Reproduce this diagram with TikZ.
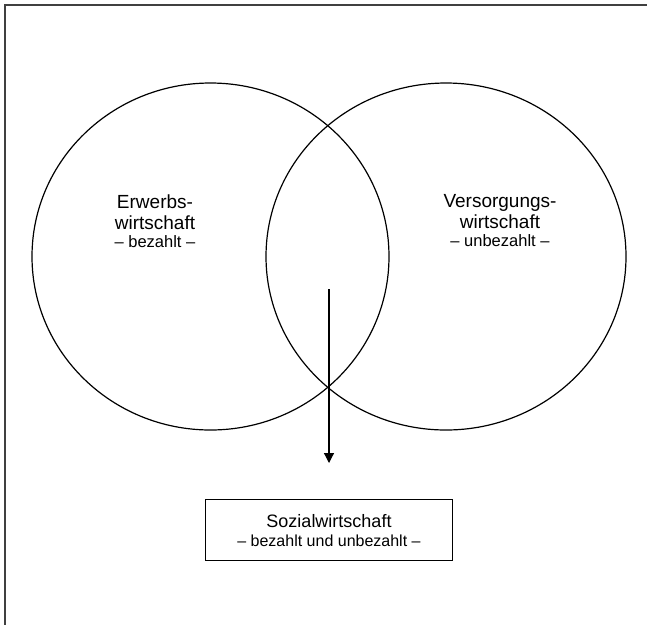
\documentclass[tikz,border=0pt]{standalone}
\usepackage{fontspec}
\setmainfont{Liberation Sans}
\usetikzlibrary{shapes.geometric,arrows.meta,positioning}

\begin{document}
\begin{tikzpicture}[x=1pt,y=-1pt,line width=1.2pt,
        kreis/.style={draw,ellipse,minimum width=#1,minimum height=347pt,inner sep=0pt},
        gross/.style={font=\fontsize{19}{21}\selectfont},
        beschriftung/.style={gross,align=center,inner sep=0pt}]
        \useasboundingbox (0,0) rectangle (647,625);
        \draw[line width=1.6pt,black!75] (647,5) -- (5,5) -- (5,625);

        \foreach \name/\x/\w in {erwerbs/210.5/357pt, versorgung/446/360pt}
            \node[kreis=\w] (\name) at (\x,256.5) {};

        \node[beschriftung] (erwerbstext) at (155,221)
            {Erwerbs-\\wirtschaft\\[-3pt]{\fontsize{16.5}{18}\selectfont – bezahlt –}};
        \node[beschriftung] (versorgungtext) at (500,221)
            {Versorgungs-\\wirtschaft\\[-3pt]{\fontsize{16.5}{18}\selectfont – unbezahlt –}};

        \coordinate (pfeilanfang) at (329,289);
        \coordinate (pfeilende) at (329,463);
        \node[draw,below=36pt of pfeilende,minimum width=247pt,minimum height=61pt,
            align=center,font=\fontsize{18}{21}\selectfont,inner sep=0pt] (sozial)
            {Sozialwirtschaft\\[-2pt]{\fontsize{16}{18}\selectfont – bezahlt und unbezahlt –}};

        \draw[-{Triangle[width=10pt,length=10pt]}] (pfeilanfang) -- (pfeilende);
    \end{tikzpicture}
\end{document}
